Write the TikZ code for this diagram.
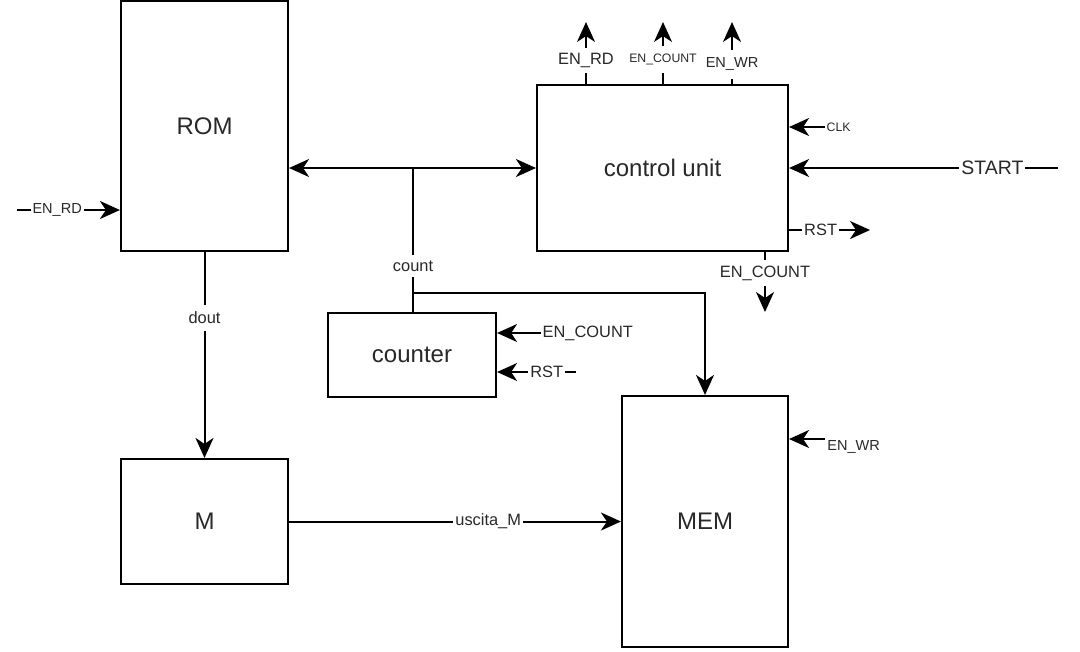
\documentclass[tikz,border=0pt]{standalone}
\usepackage{fontspec}
\setmainfont{Liberation Sans}
\usetikzlibrary{arrows.meta}

\definecolor{txtGray}{RGB}{40,40,40}
\tikzset{
    block/.style={draw, line width=1.6pt, text=txtGray, font=\fontsize{18}{21}\selectfont, inner sep=0pt},
    wire/.style={line width=1.5pt},
    sig/.style={text=txtGray, fill=white, font=\fontsize{12.3}{14}\selectfont, inner xsep=1.5pt, inner ysep=3pt},
    sigSmall/.style={sig, font=\fontsize{9.2}{11}\selectfont},
    sigMid/.style={sig, font=\fontsize{10.9}{12}\selectfont},
}

\begin{document}
\begin{tikzpicture}[yscale=-1, x=0.75pt, y=0.75pt, >={Stealth[length=15pt,width=13.5pt,inset=4.5pt]}]
    \useasboundingbox (0,0) rectangle (1080,651);

    % Define the positions of the blocks
    \coordinate (romPos) at (204.5, 126);
    \coordinate (cuPos) at (662.5, 168);
    \coordinate (counterPos) at (412, 355);
    \coordinate (mPos) at (204.5, 521.5);
    \coordinate (memPos) at (705, 521.5);

    % Draw the blocks
    \node[block, minimum width=125.25pt, minimum height=187.5pt] (rom) at (romPos) {ROM};
    \node[block, minimum width=188.25pt, minimum height=124.5pt] (ctrlUnit) at (cuPos) {control unit};
    \node[block, minimum width=126pt, minimum height=63pt] (counter) at (counterPos) {counter};
    \node[block, minimum width=125.25pt, minimum height=93.75pt] (mReg) at (mPos) {M};
    \node[block, minimum width=124.5pt, minimum height=188.25pt] (mem) at (memPos) {MEM};

    % Free ends of the signals
    \coordinate (tapPos) at (413, 168);
    \coordinate (splitPos) at (413, 293);
    \coordinate (enrdInPos) at (17, 210);
    \coordinate (enrdOutPos) at (586, 22);
    \coordinate (encountOutPos) at (663, 22);
    \coordinate (enwrOutPos) at (732, 22);
    \coordinate (clkPos) at (825, 127);
    \coordinate (startPos) at (1058, 168);
    \coordinate (rstOutPos) at (870, 230);
    \coordinate (encountDownPos) at (765, 312);
    \coordinate (encountInPos) at (541, 333);
    \coordinate (rstInPos) at (576, 372);
    \coordinate (enwrInPos) at (825, 439);

    % Draw the count bus
    \draw[wire, <->] (rom.east |- ctrlUnit.west) -- (ctrlUnit.west);
    \draw[wire] (tapPos) -- node[sig, pos=0.68, inner ysep=4.5pt] {count} (counter.north -| tapPos);
    \draw[wire, ->] (splitPos) -| (mem.north);

    % Draw the data path
    \draw[wire, ->] (rom.south) -- node[sig, pos=0.32, inner ysep=5pt] {dout} (mReg.north);
    \draw[wire, ->] (mReg.east) -- node[sig, pos=0.6, inner ysep=1pt] {uscita\_M} (mem.west);
    \draw[wire, ->] (enrdInPos) -- node[sigMid, pos=0.39, inner ysep=1pt] {EN\_RD} (rom.west |- enrdInPos);

    % Draw the control unit signals
    \draw[wire, ->] (ctrlUnit.north -| enrdOutPos) -- node[sig, pos=0.38, inner ysep=4pt] {EN\_RD} (enrdOutPos);
    \draw[wire, ->] (ctrlUnit.north -| encountOutPos) -- node[sigSmall, pos=0.39, inner ysep=6pt] {EN\_COUNT} (encountOutPos);
    \draw[wire, ->] (ctrlUnit.north -| enwrOutPos) -- node[sigMid, pos=0.32, inner ysep=6pt] {EN\_WR} (enwrOutPos);
    \draw[wire, <-] (ctrlUnit.east |- clkPos) -- (clkPos) node[sigSmall, anchor=west, inner sep=0.5pt] {CLK};
    \draw[wire, <-] (ctrlUnit.east) -- node[sig, pos=0.756, inner ysep=1pt, font=\fontsize{14.6}{16}\selectfont] {START} (startPos);
    \draw[wire, ->] (ctrlUnit.east |- rstOutPos) -- node[sig, pos=0.39, inner ysep=1pt] {RST} (rstOutPos);
    \draw[wire, ->] (ctrlUnit.south -| encountDownPos) -- node[sig, pos=0.35, inner ysep=4.5pt] {EN\_COUNT} (encountDownPos);

    % Draw the counter and memory inputs
    \draw[wire, <-] (counter.east |- encountInPos) -- (encountInPos) node[sig, anchor=west, inner sep=0.5pt] {EN\_COUNT};
    \draw[wire, <-] (counter.east |- rstInPos) -- node[sig, pos=0.63, inner ysep=1pt] {RST} (rstInPos);
    \draw[wire, <-] (mem.east |- enwrInPos) -- (enwrInPos) node[sigMid, anchor=north west, inner xsep=1pt, inner ysep=0pt] {EN\_WR};
\end{tikzpicture}
\end{document}
